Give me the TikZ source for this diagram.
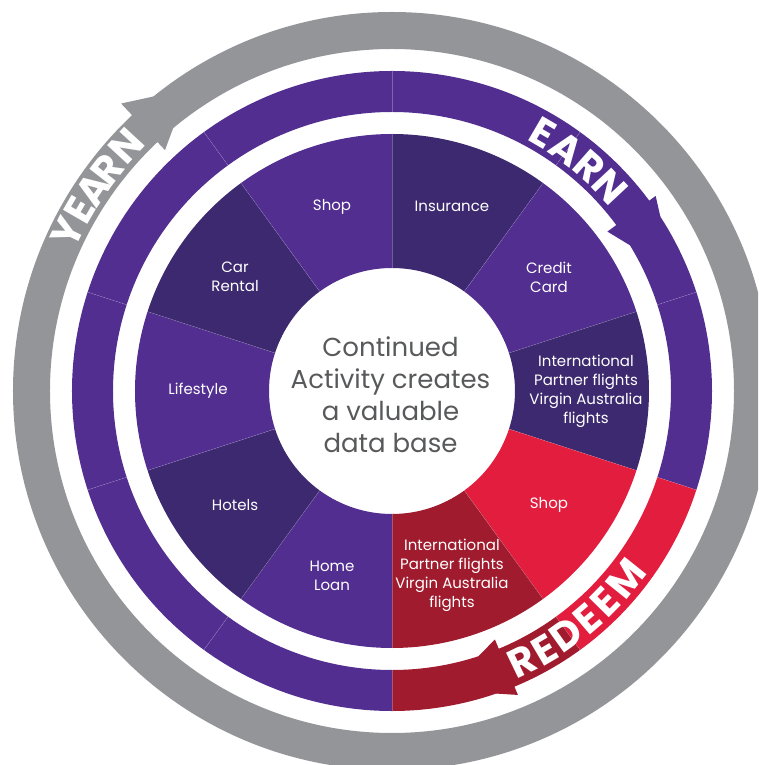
\documentclass[tikz,border=0pt]{standalone}
\usepackage{fontspec}
\setmainfont{Poppins}
\definecolor{vpurple}{RGB}{82,46,145}
\definecolor{dpurple}{RGB}{61,41,111}
\definecolor{vred}{RGB}{226,29,62}
\definecolor{dred}{RGB}{160,27,46}
\definecolor{ygray}{RGB}{148,149,153}
\definecolor{txtgray}{RGB}{88,89,91}
\newcommand{\ringpart}[5]{\fill[#1] (#4:#2) arc[start angle=#4, end angle=#5, radius=#2] -- (#5:#3) arc[start angle=#5, end angle=#4, radius=#3] -- cycle;}
\tikzset{
  seglabel/.style={text=white, align=center, font=\fontsize{15}{19}\selectfont},
  ringtxt/.style={text=white, inner sep=0pt, font=\bfseries\fontsize{40}{40}\selectfont},
  sepline/.style={white, opacity=0.25, line width=0.4pt}
}
\begin{document}
\begin{tikzpicture}[x=1pt,y=1pt]
\clip (-392,-374) rectangle (366,391);
\fill[ygray, even odd rule] (0,0) circle[radius=379] (0,0) circle[radius=342];
\fill[ygray] (133.3:331) -- (133.3:395) -- (129:379) -- (129.8:342) -- cycle;
\foreach \a/\col in {90/vpurple,54/vpurple,18/vpurple,-18/vred,-54/dred,-90/vpurple,-126/vpurple,-162/vpurple,-198/vpurple,-234/vpurple}
{
	\ringpart{\col}{279}{320}{\a}{\a-36}
}
\foreach \a/\col/\txt [count=\i] in {90/dpurple/Insurance, 54/vpurple/{Credit\\Card}, 18/dpurple/{International\\Partner flights\\Virgin Australia\\flights}, -18/vred/Shop, -54/dred/{International\\Partner flights\\Virgin Australia\\flights}, -90/vpurple/{Home\\Loan}, -126/dpurple/Hotels, -162/vpurple/Lifestyle, -198/dpurple/{Car\\Rental}, -234/vpurple/Shop}
{
	\ringpart{\col}{123}{257}{\a}{\a-36}
	\node[seglabel] (seg\i) at (\a-18:194) {\txt};
}
\foreach \a in {90,54,...,-234}
{
	\draw[sepline] (\a:123) -- (\a:257);
	\draw[sepline] (\a:279) -- (\a:320);
}
\fill[vpurple] (36.5:268) -- (36.5:328) -- (33:320) -- (31.5:279) -- cycle;
\fill[dred] (-67.5:269) -- (-67.5:329) -- (-71:320) -- (-72:279) -- cycle;
\foreach \ch/\a [count=\i] in {E/59.7,A/54.2,R/48.6,N/43.1}
	\node[ringtxt, rotate=\a-90] (earn\i) at (\a:299) {\ch};
\foreach \ch/\a [count=\i] in {R/-64.2,E/-59.5,D/-54.4,E/-49.3,E/-44.6,M/-38.7}
	\node[ringtxt, rotate=\a+90] (redeem\i) at (\a:300) {\ch};
\foreach \ch/\a [count=\i] in {Y/154,E/149.9,A/146,R/142.1,N/137.3}
	\node[ringtxt, rotate=\a-90] (yearn\i) at (\a:361) {\ch};
\node[align=center, text=txtgray, font=\fontsize{26}{32}\selectfont] (core) at (-1.5,-3.5) {Continued\\Activity creates\\a valuable\\data base};
\end{tikzpicture}
\end{document}
